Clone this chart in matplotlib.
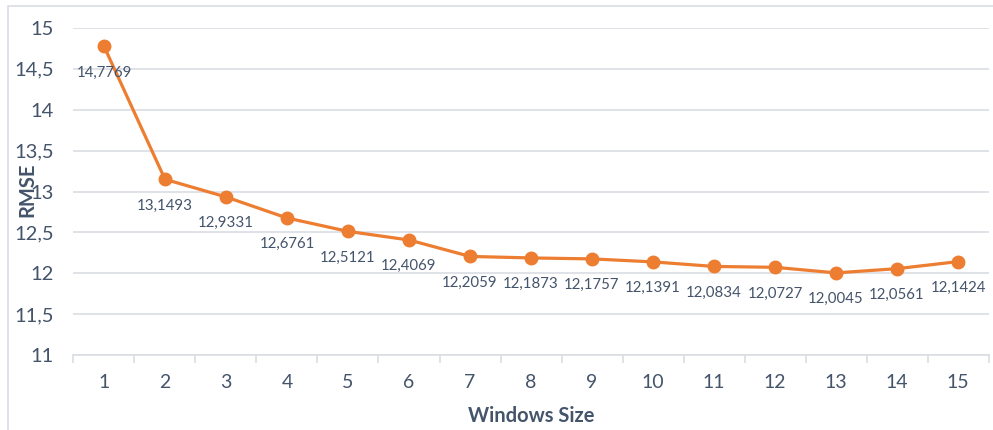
import numpy as np
import matplotlib.pyplot as plt
from matplotlib.patches import Rectangle

window_sizes = list(range(1, 16))
rmse = [14.7769, 13.1493, 12.9331, 12.6761, 12.5121, 12.4069, 12.2059, 12.1873,
        12.1757, 12.1391, 12.0834, 12.0727, 12.0045, 12.0561, 12.1424]
y_ticks = [11, 11.5, 12, 12.5, 13, 13.5, 14, 14.5, 15]

TEXT = '#44546A'
GRID = '#D9DDE3'
ORANGE = '#ED7D31'


def fmt(v):
    return f'{v:g}'.replace('.', ',')


def main():
    plt.rcParams['font.family'] = ['Lato', 'DejaVu Sans']

    fig = plt.figure(figsize=(9.93, 4.30), dpi=100)
    ax = fig.add_axes([0.074, 0.1744, 0.9215, 0.7605])

    # chart frame
    fig.patches.append(Rectangle((8 / 993, -0.1), 1.2, (430 - 6) / 430 + 0.1,
                                 transform=fig.transFigure, fill=False,
                                 edgecolor=GRID, linewidth=1.2))

    ax.plot(window_sizes, rmse, color=ORANGE, linewidth=2.3, marker='o',
            markersize=9, zorder=3, clip_on=False)
    for x, y in zip(window_sizes, rmse):
        ax.annotate(f'{y:.4f}'.replace('.', ','), (x, y), xytext=(0, -19),
                    textcoords='offset points', ha='center', va='center',
                    fontsize=10.8, color=TEXT)

    ax.set_xlim(0.5, 15.5)
    ax.set_ylim(11, 15)
    ax.set_yticks(y_ticks)
    ax.set_yticklabels([fmt(v) for v in y_ticks])
    ax.set_xticks(window_sizes)
    ax.set_xticks(np.arange(0.5, 16, 1), minor=True)
    ax.tick_params(axis='x', which='major', length=0, pad=14, labelsize=14, colors=TEXT)
    ax.tick_params(axis='x', which='minor', length=6, color=GRID, width=1.2)
    ax.tick_params(axis='y', length=0, pad=14, labelsize=14.5, colors=TEXT)
    ax.grid(axis='y', color=GRID, linewidth=1.2)
    ax.set_axisbelow(True)
    for side in ['top', 'right', 'left']:
        ax.spines[side].set_visible(False)
    ax.spines['bottom'].set_color(GRID)
    ax.spines['bottom'].set_linewidth(1.2)

    fig.text(531 / 993, 1 - 416 / 430, 'Windows Size', fontsize=14.5,
             fontweight='bold', color=TEXT, ha='center', va='center')
    fig.text(27 / 993, 1 - 190 / 430, 'RMSE', rotation=90, fontsize=14.5,
             fontweight='bold', color=TEXT, ha='center', va='center')

    fig.savefig('out.png', dpi=100)


if __name__ == "__main__":
    main()
